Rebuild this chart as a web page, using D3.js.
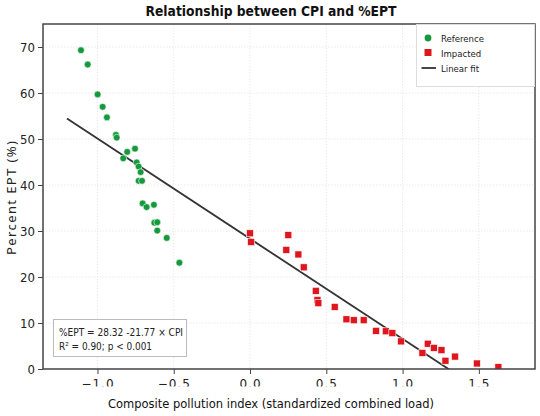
<!DOCTYPE html>
<html>
<head>
<meta charset="utf-8">
<script src="https://cdn.jsdelivr.net/npm/d3@7"></script>
<style>
  body { margin: 0; background: #fff; }
  svg { display: block; }
</style>
</head>
<body>
<script>
// reference sites (green)
var refX = [-1.108, -1.064, -0.999, -0.966, -0.938, -0.879, -0.874, -0.805, -0.754, -0.831,
            -0.743, -0.730, -0.717, -0.730, -0.708, -0.704, -0.678, -0.630, -0.627, -0.608,
            -0.608, -0.546, -0.463];
var refY = [69.3, 66.2, 59.7, 57.0, 54.7, 50.9, 50.3, 47.2, 47.9, 45.8,
            44.9, 44.0, 42.8, 40.9, 40.9, 36.0, 35.2, 35.7, 31.8, 31.9,
            30.1, 28.5, 23.1];
// impacted sites (red)
var impX = [0.000, 0.007, 0.251, 0.238, 0.317, 0.352, 0.431, 0.442, 0.448, 0.555,
            0.632, 0.680, 0.745, 0.826, 0.890, 0.933, 0.990, 1.130, 1.165, 1.205,
            1.255, 1.281, 1.344, 1.487, 1.628];
var impY = [29.5, 27.6, 29.1, 25.9, 24.9, 22.1, 17.0, 15.0, 14.3, 13.5,
            10.8, 10.6, 10.6, 8.3, 8.2, 7.8, 6.0, 3.5, 5.5, 4.6,
            4.1, 1.8, 2.7, 1.2, 0.4];
var fitIntercept = 28.32;
var fitSlope = -21.77;
var fitRange = [-1.2, 1.35];
var xTicks = [-1.0, -0.5, 0.0, 0.5, 1.0, 1.5];
var yTicks = [0, 10, 20, 30, 40, 50, 60, 70];

(function () {
  var width = 540, height = 416;
  var pl = 43, pr = 535, pt = 24, pb = 369;

  var svg = d3.select("body").append("svg")
    .attr("width", width)
    .attr("height", height);

  var x = d3.scaleLinear().domain([-1.357, 1.868]).range([pl, pr]);
  var y = d3.scaleLinear().domain([0, 75]).range([pb, pt]);

  svg.append("defs").append("clipPath").attr("id", "plot")
    .append("rect")
    .attr("x", pl).attr("y", pt)
    .attr("width", pr - pl).attr("height", pb - pt);

  // grid
  svg.append("g").selectAll("line").data(xTicks).enter().append("line")
    .attr("x1", function (d) { return x(d); }).attr("x2", function (d) { return x(d); })
    .attr("y1", pt).attr("y2", pb)
    .style("stroke", "#e4e4e4").style("stroke-dasharray", "1.5,1.5").style("stroke-width", 0.8);
  svg.append("g").selectAll("line").data(yTicks).enter().append("line")
    .attr("y1", function (d) { return y(d); }).attr("y2", function (d) { return y(d); })
    .attr("x1", pl).attr("x2", pr)
    .style("stroke", "#e4e4e4").style("stroke-dasharray", "1.5,1.5").style("stroke-width", 0.8);

  var plot = svg.append("g").attr("clip-path", "url(#plot)");

  // fit line
  var line = d3.line()
    .x(function (d) { return x(d); })
    .y(function (d) { return y(fitIntercept + fitSlope * d); });
  plot.append("path")
    .datum(fitRange)
    .attr("d", line)
    .style("fill", "none")
    .style("stroke", "#333")
    .style("stroke-width", 1.8);

  // reference points
  plot.selectAll("circle.ref")
    .data(d3.range(refX.length))
    .enter().append("circle")
    .attr("class", "ref")
    .attr("cx", function (i) { return x(refX[i]); })
    .attr("cy", function (i) { return y(refY[i]); })
    .attr("r", 3.4)
    .style("fill", "#16983c")
    .style("stroke", "#fff")
    .style("stroke-width", 0.6);

  // impacted points
  plot.selectAll("rect.imp")
    .data(d3.range(impX.length))
    .enter().append("rect")
    .attr("class", "imp")
    .attr("x", function (i) { return x(impX[i]) - 3.5; })
    .attr("y", function (i) { return y(impY[i]) - 3.5; })
    .attr("width", 7).attr("height", 7)
    .style("fill", "#e0161e")
    .style("stroke", "#fff")
    .style("stroke-width", 0.6);

  // axes
  var xAxis = svg.append("g")
    .attr("transform", "translate(0," + pb + ")")
    .call(d3.axisBottom(x).tickValues(xTicks).tickSize(5).tickPadding(5)
      .tickFormat(function (d) { return d3.format(".1f")(d).replace("-", "\u2212"); }));
  xAxis.select(".domain").remove();
  xAxis.selectAll("text")
    .style("font-family", "'DejaVu Sans'").style("font-size", "12px").style("fill", "#222")
    .attr("letter-spacing", "1");
  xAxis.selectAll("line").style("stroke", "#444");

  var yAxis = svg.append("g")
    .attr("transform", "translate(" + pl + ",0)")
    .call(d3.axisLeft(y).tickValues(yTicks).tickSize(5).tickPadding(3));
  yAxis.select(".domain").remove();
  yAxis.selectAll("text")
    .style("font-family", "'DejaVu Sans Condensed', 'DejaVu Sans'").style("font-size", "13px").style("fill", "#222");
  yAxis.selectAll("line").style("stroke", "#444");

  // frame
  svg.append("rect")
    .attr("x", pl).attr("y", pt)
    .attr("width", pr - pl).attr("height", pb - pt)
    .style("fill", "none").style("stroke", "#444").style("stroke-width", 1.5);

  // white strip cutting the tick labels like the original
  svg.append("rect")
    .attr("x", 0).attr("y", 386.5).attr("width", width).attr("height", 30)
    .style("fill", "#fff");

  // title and axis labels
  svg.append("text")
    .attr("x", 271).attr("y", 16)
    .attr("text-anchor", "middle")
    .attr("textLength", 251).attr("lengthAdjust", "spacingAndGlyphs")
    .style("font-family", "'DejaVu Sans Condensed', 'DejaVu Sans'")
    .style("font-weight", "bold").style("font-size", "14px").style("fill", "#111")
    .text("Relationship between CPI and %EPT");

  svg.append("text")
    .attr("x", 271).attr("y", 408)
    .attr("text-anchor", "middle")
    .attr("textLength", 326).attr("lengthAdjust", "spacingAndGlyphs")
    .style("font-family", "'DejaVu Sans Condensed', 'DejaVu Sans'")
    .style("font-size", "13px").style("fill", "#111")
    .text("Composite pollution index (standardized combined load)");

  svg.append("text")
    .attr("transform", "translate(16,198) rotate(-90)")
    .attr("text-anchor", "middle")
    .attr("textLength", 114).attr("lengthAdjust", "spacing")
    .style("font-family", "'Noto Sans'")
    .style("font-size", "13px").style("fill", "#222")
    .text("Percent EPT (%)");

  // annotation box
  svg.append("rect")
    .attr("x", 53.5).attr("y", 319.5).attr("width", 133).attr("height", 37)
    .style("fill", "#fff").style("stroke", "#bbb").style("stroke-width", 1);
  svg.append("text")
    .attr("x", 59).attr("y", 335.5)
    .attr("textLength", 124).attr("lengthAdjust", "spacingAndGlyphs")
    .style("font-family", "'DejaVu Sans Condensed', 'DejaVu Sans'")
    .style("font-size", "11px").style("fill", "#222")
    .text("%EPT = 28.32 -21.77 \u00d7 CPI");
  svg.append("text")
    .attr("x", 59).attr("y", 349.5)
    .attr("textLength", 93).attr("lengthAdjust", "spacingAndGlyphs")
    .style("font-family", "'DejaVu Sans Condensed', 'DejaVu Sans'")
    .style("font-size", "11px").style("fill", "#222")
    .text("R\u00b2 = 0.90; p < 0.001");

  // legend
  var legend = svg.append("g");
  legend.append("rect")
    .attr("x", 416.5).attr("y", 24.5).attr("width", 118).attr("height", 62)
    .style("fill", "#fff").style("stroke", "#ddd").style("stroke-width", 1);
  legend.append("circle")
    .attr("cx", 428).attr("cy", 38).attr("r", 3.4)
    .style("fill", "#16983c");
  legend.append("rect")
    .attr("x", 424.5).attr("y", 49).attr("width", 7).attr("height", 7)
    .style("fill", "#e0161e");
  legend.append("line")
    .attr("x1", 421.5).attr("x2", 436).attr("y1", 68).attr("y2", 68)
    .style("stroke", "#333").style("stroke-width", 1.8);
  var legendLabels = ["Reference", "Impacted", "Linear fit"];
  legend.selectAll("text.lab")
    .data(legendLabels)
    .enter().append("text")
    .attr("class", "lab")
    .attr("x", 441)
    .attr("y", function (d, i) { return 41.5 + i * 15; })
    .style("font-family", "'DejaVu Sans Condensed', 'DejaVu Sans'")
    .style("font-size", "9.5px").style("fill", "#222")
    .text(function (d) { return d; });
})();
</script>
</body>
</html>
